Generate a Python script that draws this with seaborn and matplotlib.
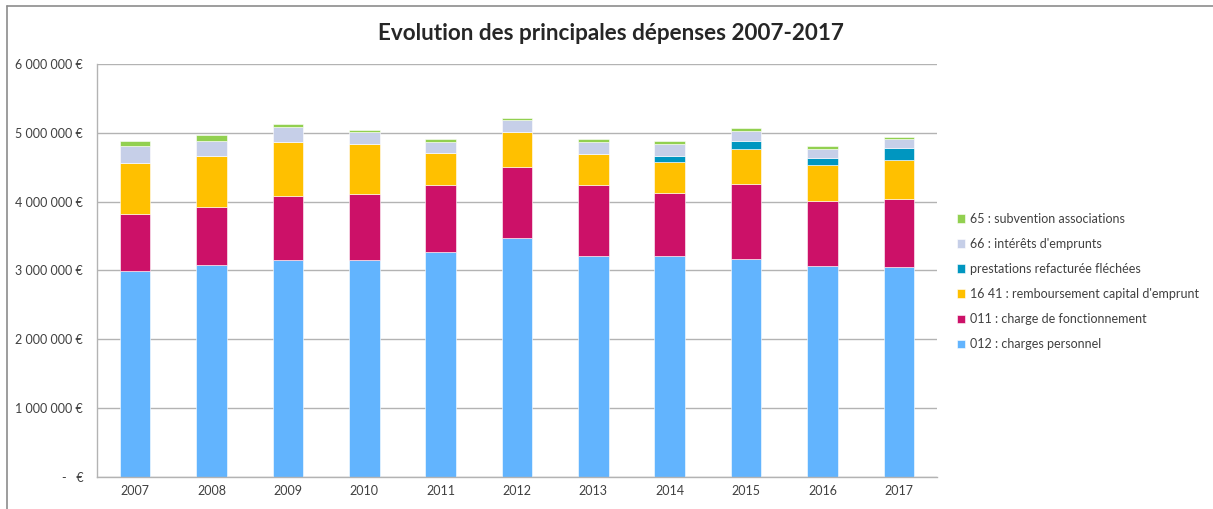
import numpy as np
import matplotlib
matplotlib.use('Agg')
import matplotlib.pyplot as plt
from matplotlib.lines import Line2D
import seaborn as sns

# Data (euros)
years = ['2007', '2008', '2009', '2010', '2011', '2012', '2013', '2014', '2015', '2016', '2017']
personnel = [2990000, 3081000, 3149000, 3149000, 3275000, 3469000, 3207000, 3207000, 3169000, 3067000, 3052000]
fonctionnement = [837000, 834000, 935000, 964000, 965000, 1037000, 1037000, 916000, 1085000, 940000, 993000]
remboursement = [737000, 741000, 785000, 727000, 469000, 513000, 451000, 460000, 509000, 523000, 563000]
prestations = [0, 0, 0, 0, 0, 0, 0, 78000, 111000, 111000, 174000]
interets = [242000, 228000, 214000, 179000, 156000, 160000, 170000, 174000, 155000, 126000, 121000]
subvention = [78000, 87000, 48000, 29000, 38000, 39000, 38000, 39000, 39000, 39000, 39000]

series = [
    ('012 : charges personnel', personnel, '#62B4FE'),
    ('011 : charge de fonctionnement', fonctionnement, '#CC1168'),
    ("16 41 : remboursement capital d'emprunt", remboursement, '#FFC000'),
    ('prestations refacturée fléchées', prestations, '#0096C0'),
    ("66 : intérêts d'emprunts", interets, '#C6CFE8'),
    ('65 : subvention associations', subvention, '#92D050'),
]

sns.set_style('white')
plt.rcParams['font.family'] = ['Lato', 'DejaVu Sans']

fig = plt.figure(figsize=(12.13, 5.09), dpi=100)
ax = fig.add_axes([0.080, 0.0629, 0.6925, 0.8114])

bottom = np.zeros(len(years))
for label, vals, color in series:
    sns.barplot(x=years, y=vals, bottom=bottom, color=color, width=0.4, saturation=1,
                edgecolor='white', linewidth=0.4, ax=ax, label=label)
    bottom += np.array(vals)

ax.set_ylim(0, 6000000)
ax.set_xlim(-0.5, len(years) - 0.5)
ax.set_yticks(np.arange(0, 6000001, 1000000))
ax.set_yticklabels(['-   €'] + [f"{v:,} €".replace(',', ' ') for v in range(1000000, 6000001, 1000000)])
ax.yaxis.grid(True, color='#B3B3B3', linewidth=1)
ax.set_axisbelow(True)
ax.set_xlabel('')
ax.set_ylabel('')

for s in ['top', 'right']:
    ax.spines[s].set_visible(False)
for s in ['left', 'bottom']:
    ax.spines[s].set_color('#B3B3B3')
    ax.spines[s].set_linewidth(1)

# x ticks between categories, y ticks outward
ax.set_xticks(np.arange(-0.5, len(years), 1), minor=True)
ax.tick_params(axis='x', which='major', length=0, labelsize=9, colors='#404040', pad=6)
ax.tick_params(axis='x', which='minor', length=4, color='#B3B3B3', direction='out')
ax.tick_params(axis='y', length=4, color='#B3B3B3', direction='out', labelsize=9, labelcolor='#404040', pad=6)

ax.set_title('Evolution des principales dépenses 2007-2017', fontsize=16.2, fontweight='bold',
             x=0.612, y=1.0, pad=17)

handles, labels = ax.get_legend_handles_labels()
ax.legend(handles[::-1], labels[::-1], loc='upper left', bbox_to_anchor=(1.01, 0.667),
          frameon=False, fontsize=9, handlelength=0.7, handleheight=0.7,
          handletextpad=0.4, labelspacing=1.05, labelcolor='#404040')

# chart frame
fig.add_artist(Line2D([7 / 1213, 7 / 1213], [0, 1 - 6 / 509], transform=fig.transFigure, color='#8C8C8C', linewidth=1.2))
fig.add_artist(Line2D([7 / 1213, 1], [1 - 6 / 509, 1 - 6 / 509], transform=fig.transFigure, color='#8C8C8C', linewidth=1.2))

fig.savefig('out.png', dpi=100)
